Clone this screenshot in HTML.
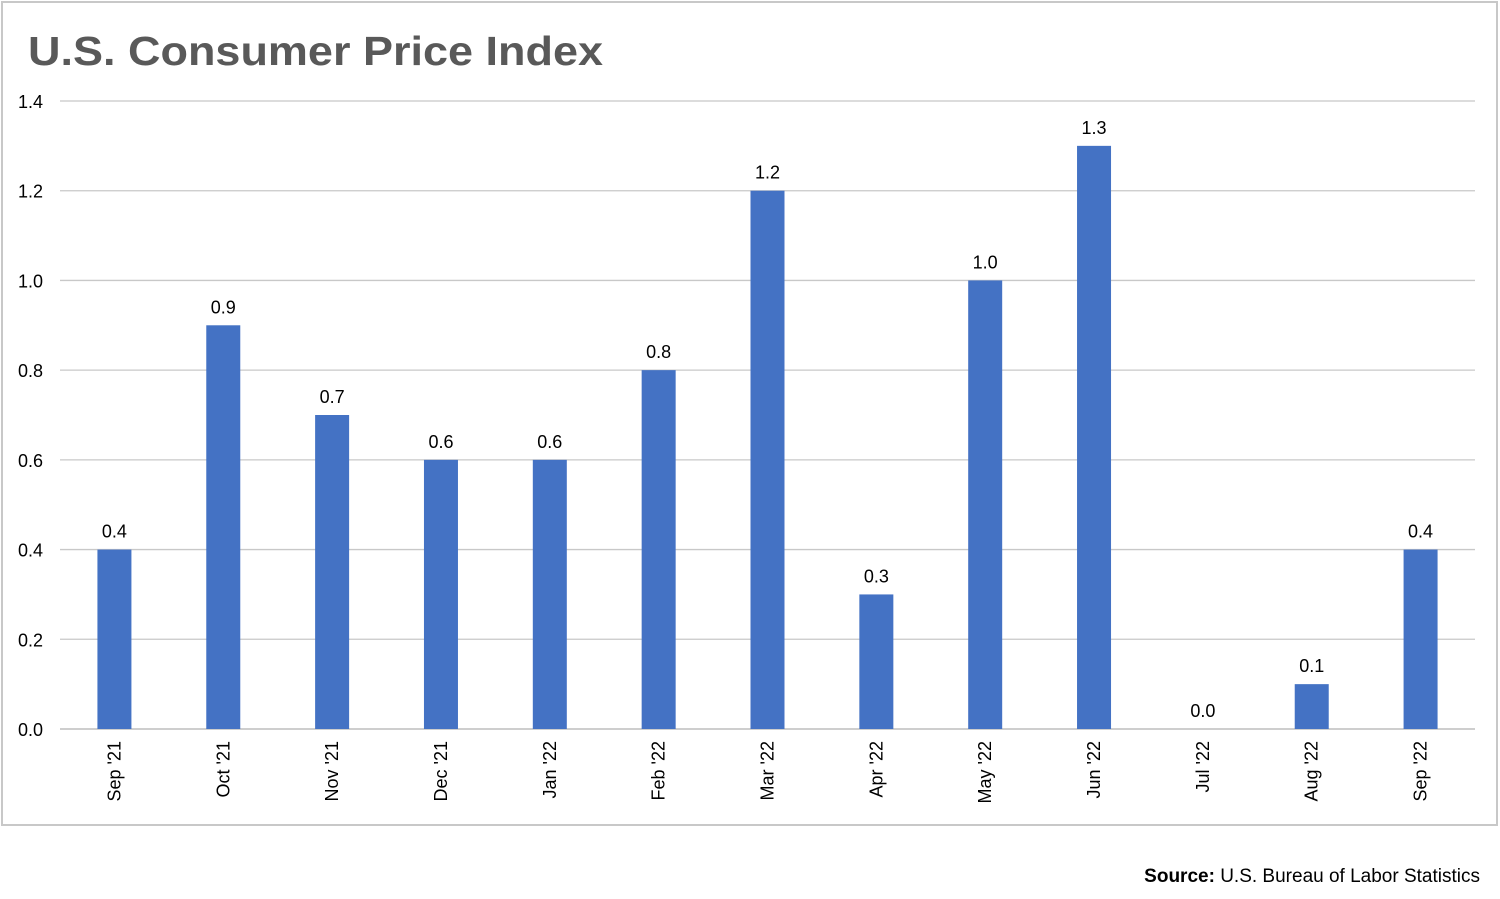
<!DOCTYPE html>
<html><head><meta charset="utf-8"><style>
body{margin:0;background:#fff;}
svg{display:block;font-family:"Liberation Sans",Arial,sans-serif;}
</style></head><body>
<svg id="chart" width="1500" height="899">
<rect x="2" y="2" width="1495" height="823" fill="#fff" stroke="#c8c8c8" stroke-width="2"/>
<text x="28" y="65" font-size="41" font-weight="bold" fill="#595959" textLength="575" lengthAdjust="spacingAndGlyphs">U.S. Consumer Price Index</text>
<g id="grid"></g><g id="bars"></g><g id="labels"></g>
<text x="1480" y="882" font-size="19" text-anchor="end" fill="#000"><tspan font-weight="bold">Source:</tspan> U.S. Bureau of Labor Statistics</text>
</svg>
<script>
const categories=["Sep '21","Oct '21","Nov '21","Dec '21","Jan '22","Feb '22","Mar '22","Apr '22","May '22","Jun '22","Jul '22","Aug '22","Sep '22"];
const values=[0.4,0.9,0.7,0.6,0.6,0.8,1.2,0.3,1.0,1.3,0.0,0.1,0.4];
const yTicks=[0,0.2,0.4,0.6,0.8,1.0,1.2,1.4];
const NS="http://www.w3.org/2000/svg";
const x0=60,x1=1475,y0=729,y1=101,yMax=1.4;
const band=(x1-x0)/categories.length;
const xC=i=>x0+band*(i+0.5);
const yS=v=>y0-(v/yMax)*(y0-y1);
function mk(t,a,p){const e=document.createElementNS(NS,t);for(const k in a)e.setAttribute(k,a[k]);p.appendChild(e);return e;}
const grid=document.getElementById('grid'),bars=document.getElementById('bars'),labels=document.getElementById('labels');
yTicks.forEach(t=>{
 const l=mk('line',{x1:x0,x2:x1,y1:yS(t),y2:yS(t),stroke:t===0?'#b0b0b0':'#c8c8c8','stroke-width':1.3},grid);
 
 
 const tx=mk('text',{x:43,y:yS(t)+7,'font-size':18,'text-anchor':'end',fill:'#000'},grid);
 tx.textContent=t.toFixed(1);
 
 
});
values.forEach((v,i)=>{
 const cx=xC(i),w=34;
 if(v>0){
  const r=mk('rect',{x:cx-w/2,y:yS(v),width:w,height:y0-yS(v),fill:'#4472c4'},bars);
  
  
 }
 const dl=mk('text',{x:cx,y:yS(v)-12,'font-size':18,'text-anchor':'middle',fill:'#000'},labels);
 dl.textContent=v.toFixed(1);
 
 
 const cl=mk('text',{x:0,y:0,'font-size':18,'text-anchor':'end',fill:'#000',transform:`translate(${cx+6},741) rotate(-90)`},labels);
 cl.textContent=categories[i];
 
 
});
</script>
</body></html>
